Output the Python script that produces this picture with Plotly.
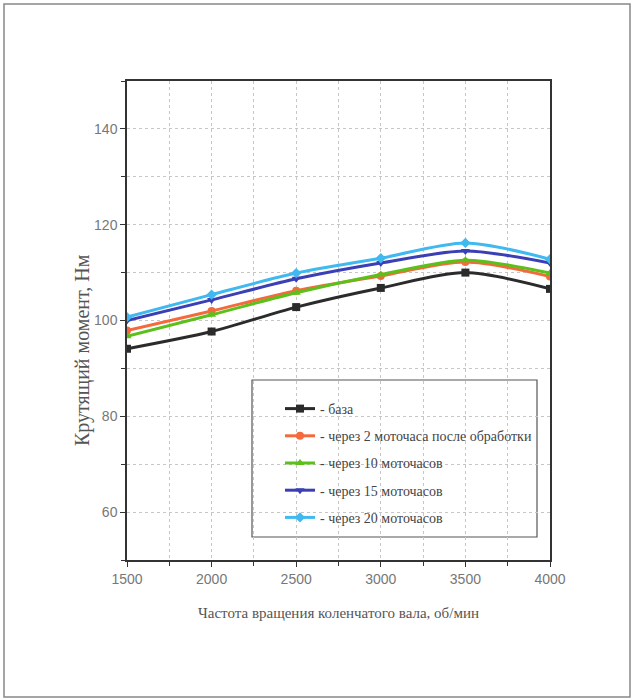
import plotly.graph_objects as go

# Crankshaft speed, rpm
rpm = [1500, 2000, 2500, 3000, 3500, 4000]

# Torque, N·m
torque_base = [94.1, 97.7, 102.8, 106.8, 110.0, 106.6]
torque_2h = [97.9, 102.0, 106.2, 109.3, 112.2, 109.2]
torque_10h = [96.7, 101.2, 105.8, 109.6, 112.6, 109.9]
torque_15h = [100.0, 104.3, 108.7, 112.0, 114.5, 112.0]
torque_20h = [100.7, 105.4, 109.9, 113.0, 116.2, 112.8]

series_names = [
    "- база",
    "- через 2 моточаса после обработки",
    "- через 10 моточасов",
    "- через 15 моточасов",
    "- через 20 моточасов",
]

x_ticks = [1500, 2000, 2500, 3000, 3500, 4000]
y_ticks = [60, 80, 100, 120, 140]

series = [
    (torque_base, "#2b2b2b", "square"),
    (torque_2h, "#f46a3c", "circle"),
    (torque_10h, "#5cc01c", "triangle-up"),
    (torque_15h, "#3b3fb6", "triangle-down"),
    (torque_20h, "#3fb9ef", "diamond"),
]

W, H = 635, 700
L, R, T, B = 127, 550, 81, 560
pw, ph = R - L, B - T


def px(x):
    return (x - L) / pw


def py(y):
    return (B - y) / ph


fig = go.Figure()
for i, ((vals, color, sym), name) in enumerate(zip(series, series_names)):
    fig.add_trace(go.Scatter(
        x=rpm, y=vals, name=name, mode="lines+markers",
        legendgroup=f"g{i}",
        line=dict(color=color, width=3, shape="spline", smoothing=0.8),
        marker=dict(symbol=sym, size=8, color=color),
    ))

serif = "Liberation Serif, Times New Roman, serif"
sans = "Liberation Sans Narrow, Arial Narrow, Liberation Sans, Arial, sans-serif"
grid = "#c6c6c6"

fig.update_layout(
    width=W, height=H,
    margin=dict(l=L, r=W - R, t=T, b=H - B),
    paper_bgcolor="white", plot_bgcolor="white",
    showlegend=True,
    legend=dict(
        x=px(280), y=py(393), xanchor="left", yanchor="top",
        bgcolor="rgba(0,0,0,0)", borderwidth=0,
        font=dict(family=serif, size=14, color="#444"),
        traceorder="grouped", tracegroupgap=6,
        itemwidth=30,
    ),
    xaxis=dict(
        range=[1500, 4000], tickvals=x_ticks,
        ticks="outside", ticklen=5, tickcolor="#333",
        showline=True, mirror=True, linecolor="#333", linewidth=1.5,
        showgrid=True, gridcolor=grid, griddash="dot", gridwidth=1,
        minor=dict(dtick=250, tick0=1500, showgrid=True, gridcolor=grid,
                   griddash="dot", ticks="outside", ticklen=4, tickcolor="#333"),
        tickfont=dict(family=sans, size=14, color="#777"),
        zeroline=False,
        title=dict(text="Частота вращения коленчатого вала, об/мин",
                   font=dict(family=serif, size=15, color="#555"), standoff=22),
    ),
    yaxis=dict(
        range=[50, 150], tickvals=y_ticks,
        ticks="outside", ticklen=5, tickcolor="#333",
        showline=True, mirror=True, linecolor="#333", linewidth=1.5,
        showgrid=True, gridcolor=grid, griddash="dot", gridwidth=1,
        minor=dict(dtick=10, tick0=50, showgrid=True, gridcolor=grid,
                   griddash="dot", ticks="outside", ticklen=4, tickcolor="#333"),
        tickfont=dict(family=sans, size=14, color="#777"),
        zeroline=False,
    ),
    annotations=[dict(
        text="Крутящий момент, Нм", textangle=-90,
        xref="paper", yref="paper", x=px(82), y=py(350),
        xanchor="center", yanchor="middle", showarrow=False,
        font=dict(family=serif, size=20, color="#555"),
    )],
    shapes=[
        # legend frame
        dict(type="rect", xref="paper", yref="paper",
             x0=px(252), x1=px(537), y0=py(537), y1=py(380),
             line=dict(color="#555", width=1.2), fillcolor="white", layer="below"),
        # page frame
        dict(type="rect", xref="paper", yref="paper",
             x0=px(4), x1=px(630), y0=py(697), y1=py(4),
             line=dict(color="#888", width=1.5)),
    ],
)

fig.write_html("out.html")
